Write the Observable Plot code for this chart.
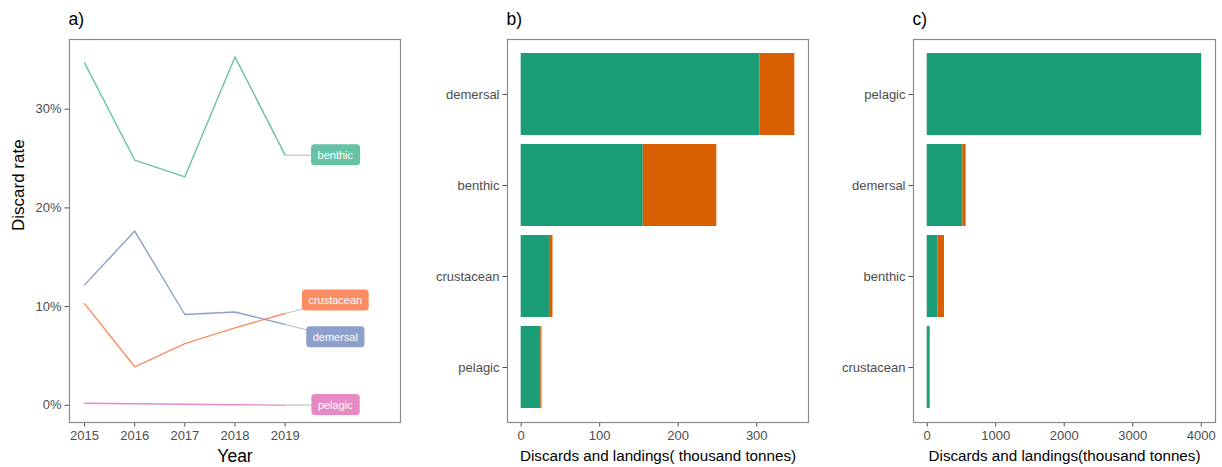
<!DOCTYPE html>
<html><head><meta charset="utf-8">
<script src="https://cdn.jsdelivr.net/npm/d3@7"></script>
<script src="https://cdn.jsdelivr.net/npm/@observablehq/plot@0.6"></script>
<style>
body{margin:0;background:#fff;font-family:"Liberation Sans",Arial,sans-serif;}
#root{position:relative;width:1222px;height:467px;overflow:hidden;background:#fff;}
.panel{position:absolute;top:0;}
</style></head><body><div id="root"></div>
<script>
// ---- Panel a data: discard rate (%) by year ----
const years = [2015, 2016, 2017, 2018, 2019];
const groups = ["benthic", "crustacean", "demersal", "pelagic"];
const benthicRate    = [34.7, 24.85, 23.15, 35.3, 25.35];
const crustaceanRate = [10.3, 3.9, 6.25, 7.85, 9.3];
const demersalRate   = [12.2, 17.65, 9.2, 9.45, 8.2];
const pelagicRate    = [0.2, 0.15, 0.1, 0.05, 0.02];
const groupColors = ["#66c2a5", "#fc8d62", "#8da0cb", "#e78ac3"];

// ---- Panel b data (thousand tonnes) ----
const catsB = ["demersal", "benthic", "crustacean", "pelagic"];
const landingsB = [304, 155.5, 36, 25];
const discardsB = [44.5, 93.7, 4.5, 1.5];

// ---- Panel c data (thousand tonnes) ----
const catsC = ["pelagic", "demersal", "benthic", "crustacean"];
const landingsC = [4005, 520, 156, 42];
const discardsC = [3, 48, 96, 3];

const typeNames = ["Landings", "Discards"];
const typeColors = ["#1b9e77", "#d95f02"];

const FONT = '"Liberation Sans", Arial, sans-serif';
const root = document.getElementById("root");
const NS = "http://www.w3.org/2000/svg";

function place(svg, left) {
  const d = document.createElement("div");
  d.className = "panel";
  d.style.left = left + "px";
  d.appendChild(svg);
  root.appendChild(d);
}

const axisStyle = {tickSize: 4.5, tickPadding: 3.5, fontSize: 13, color: "#4d4d4d", label: null};

// ================= Panel a =================
const rates = [benthicRate, crustaceanRate, demersalRate, pelagicRate];
const lineData = groups.flatMap((g, i) => years.map((yr, j) => ({group: g, year: yr, rate: rates[i][j]})));
const lastYear = years[years.length - 1];
const labels = groups.map((g, i) => ({group: g, year: lastYear, rate: rates[i][rates[i].length - 1], lx: lastYear + 1}));
labels.forEach(d => d.ly = d.rate);
// simple vertical repel of labels
const minGap = 3.72;
for (let it = 0; it < 50; it++) {
  const s = labels.slice().sort((a, b) => a.ly - b.ly);
  for (let k = 1; k < s.length; k++) {
    const gap = s[k].ly - s[k - 1].ly;
    if (gap < minGap) {
      const push = (minGap - gap) / 2;
      s[k].ly += push; s[k - 1].ly -= push;
    }
  }
}
const [ymin, ymax] = d3.extent(lineData, d => d.rate);
const yr = ymax - ymin;
const xlo = years[0], xhi = lastYear + 2;
const colorA = d3.scaleOrdinal(groups, groupColors);

const svgA = Plot.plot({
  width: 405, height: 467,
  marginLeft: 69, marginRight: 5, marginTop: 39, marginBottom: 45,
  style: {fontFamily: FONT, background: "transparent"},
  x: {domain: [xlo - 0.05 * (xhi - xlo), xhi + 0.05 * (xhi - xlo)]},
  y: {domain: [ymin - 0.05 * yr, ymax + 0.05 * yr]},
  color: {domain: groups, range: groupColors},
  marks: [
    Plot.axisX({...axisStyle, ticks: years, tickFormat: d => String(d)}),
    Plot.axisY({...axisStyle, ticks: [0, 10, 20, 30], tickFormat: d => d + "%"}),
    Plot.line(lineData, {x: "year", y: "rate", z: "group", stroke: "group", strokeWidth: 1.4}),
    Plot.link(labels, {x1: "year", y1: "rate", x2: "lx", y2: "ly", stroke: "#c4c4c4", strokeWidth: 1.2}),
    Plot.text(labels, {x: "lx", y: "ly", text: "group", fill: "white", fontSize: 11}),
    Plot.frame({stroke: "#8a8a8a", strokeWidth: 1.2}),
    Plot.text(["Year"], {text: d => d, frameAnchor: "bottom", lineAnchor: "middle", dy: 34, fontSize: 17.5, fill: "#000"}),
    Plot.text(["Discard rate"], {text: d => d, frameAnchor: "left", lineAnchor: "middle", rotate: -90, dx: -51, fontSize: 17, fill: "#000"}),
    Plot.text(["a)"], {text: d => d, frameAnchor: "top-left", lineAnchor: "middle", textAnchor: "start", dy: -20, dx: -1, fontSize: 17.5, fill: "#000"})
  ]
});
place(svgA, 0);
// label boxes behind the label text (ggrepel-like)
svgA.querySelectorAll('g[aria-label="text"]').forEach(g => {
  if (g.getAttribute("fill") !== "white") return;
  g.querySelectorAll("text").forEach(t => {
    if (!groups.includes(t.textContent)) return;
    const b = t.getBBox();
    const padX = 6.5, padY = 4.5;
    const r = document.createElementNS(NS, "rect");
    r.setAttribute("x", b.x - padX);
    r.setAttribute("y", b.y - padY);
    r.setAttribute("width", b.width + 2 * padX);
    r.setAttribute("height", b.height + 2 * padY);
    r.setAttribute("rx", 3.5);
    r.setAttribute("fill", colorA(t.textContent));
    r.setAttribute("stroke", "none");
    if (t.getAttribute("transform")) r.setAttribute("transform", t.getAttribute("transform"));
    t.parentNode.insertBefore(r, t);
  });
});

// ================= Panels b, c =================
function barPanel(cats, landings, discards, title, xlabel, ticks, width, mLeft, mRight) {
  const data = [
    ...cats.map((c, i) => ({cat: c, type: typeNames[0], value: landings[i]})),
    ...cats.map((c, i) => ({cat: c, type: typeNames[1], value: discards[i]}))
  ];
  const maxT = d3.max(cats.map((c, i) => landings[i] + discards[i]));
  return Plot.plot({
    width, height: 467,
    marginLeft: mLeft, marginRight: mRight, marginTop: 39, marginBottom: 45,
    style: {fontFamily: FONT, background: "transparent"},
    x: {domain: [-0.05 * maxT, maxT * 1.05]},
    y: {domain: cats, paddingInner: 0.1, paddingOuter: 0.15},
    color: {domain: typeNames, range: typeColors},
    marks: [
      Plot.barX(data, Plot.stackX({x: "value", y: "cat", fill: "type", order: null})),
      Plot.axisX({...axisStyle, ticks, tickFormat: d => String(d)}),
      Plot.axisY({...axisStyle}),
      Plot.frame({stroke: "#8a8a8a", strokeWidth: 1.2}),
      Plot.text([xlabel], {text: d => d, frameAnchor: "bottom", lineAnchor: "middle", dy: 34, fontSize: 15.2, fill: "#000"}),
      Plot.text([title], {text: d => d, frameAnchor: "top-left", lineAnchor: "middle", textAnchor: "start", dy: -20, dx: -1, fontSize: 17.5, fill: "#000"})
    ]
  });
}

place(barPanel(catsB, landingsB, discardsB, "b)", "Discards and landings( thousand tonnes)", [0, 100, 200, 300], 400, 97, 2), 410);
place(barPanel(catsC, landingsC, discardsC, "c)", "Discards and landings(thousand tonnes)", [0, 1000, 2000, 3000, 4000], 410, 101, 7), 812);
</script></body></html>
